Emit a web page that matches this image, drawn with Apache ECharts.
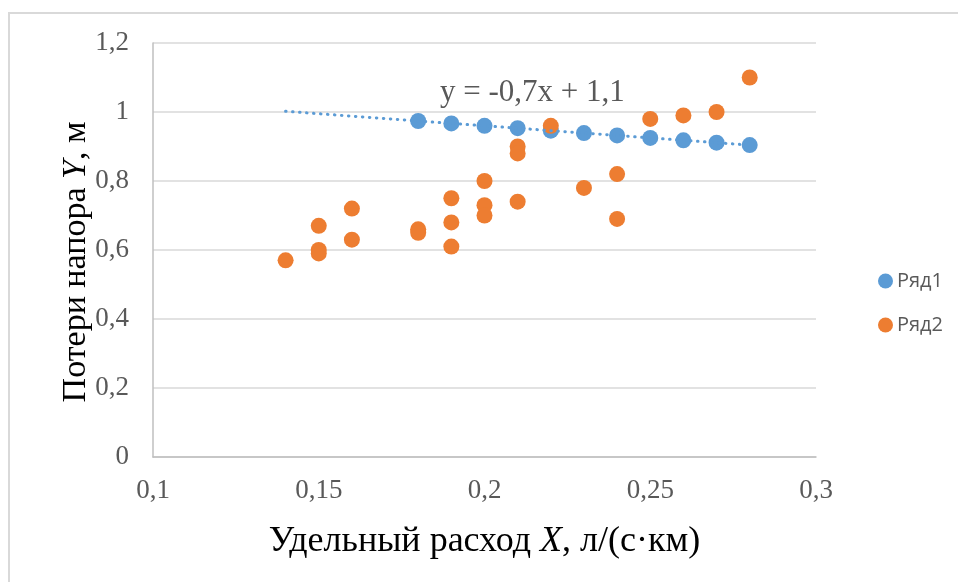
<!DOCTYPE html>
<html>
<head>
<meta charset="utf-8">
<script src="https://cdn.jsdelivr.net/npm/echarts@6/dist/echarts.min.js"></script>
<style>html,body{margin:0;padding:0;background:#fff}#c{width:958px;height:582px}</style>
</head>
<body>
<div id="c"></div>
<script>
// Ряд1 (x, y)
const ser1X = [0.18, 0.19, 0.20, 0.21, 0.22, 0.23, 0.24, 0.25, 0.26, 0.27, 0.28];
const ser1Y = [0.974, 0.967, 0.960, 0.953, 0.946, 0.939, 0.932, 0.925, 0.918, 0.911, 0.904];
// Ряд2 (x, y)
const ser2X = [0.14, 0.15, 0.15, 0.15, 0.16, 0.16, 0.18, 0.18, 0.19, 0.19, 0.19, 0.20, 0.20, 0.20, 0.21, 0.21, 0.21, 0.22, 0.23, 0.24, 0.24, 0.25, 0.26, 0.27, 0.28];
const ser2Y = [0.57, 0.67, 0.60, 0.59, 0.72, 0.63, 0.66, 0.65, 0.75, 0.68, 0.61, 0.80, 0.73, 0.70, 0.90, 0.88, 0.74, 0.96, 0.78, 0.82, 0.69, 0.98, 0.99, 1.00, 1.10];
// Trend line endpoints (linear, Ряд1)
const trendX = [0.14, 0.28];
const trendY = [1.002, 0.904];
const trendLabel = 'y = -0,7x + 1,1';
const seriesNames = ['Ряд1', 'Ряд2'];
const xTitle = ['Удельный расход ', 'X', ', л/(с·км)'];
const yTitle = ['Потери напора ', 'Y', ', м'];

const zip = (a, b) => a.map((v, i) => [v, b[i]]);
const fmt = v => String(Math.round(v * 1000) / 1000).replace('.', ',');
const serif = '"Liberation Serif", "Times New Roman", serif';

const chart = echarts.init(document.getElementById('c'), null, {renderer: 'canvas'});
chart.setOption({
  animation: false,
  backgroundColor: '#fff',
  color: ['#5B9BD5', '#ED7D31'],
  grid: {left: 153, right: 142, top: 43, bottom: 125, containLabel: false},
  legend: {
    orient: 'vertical', left: 873, top: 266, itemGap: 24,
    icon: 'circle', itemWidth: 15, itemHeight: 15,
    data: seriesNames,
    textStyle: {fontFamily: '"Open Sans", "Noto Sans", sans-serif', fontSize: 20, color: '#595959', padding: [0, 0, 0, -1]}
  },
  xAxis: {
    type: 'value', min: 0.1, max: 0.3, interval: 0.05,
    axisLine: {show: true, lineStyle: {color: '#bfbfbf', width: 1.5}},
    axisTick: {show: false},
    splitLine: {show: false},
    axisLabel: {formatter: fmt, fontFamily: serif, fontSize: 27, color: '#595959', margin: 20},
    name: '{a|' + xTitle[0] + '}{b|' + xTitle[1] + '}{a|' + xTitle[2] + '}',
    nameLocation: 'middle', nameGap: 67, nameMoveOverlap: false,
    nameTextStyle: {
      rich: {
        a: {fontFamily: serif, fontSize: 36, color: '#000'},
        b: {fontFamily: serif, fontSize: 36, color: '#000', fontStyle: 'italic'}
      }
    }
  },
  yAxis: {
    type: 'value', min: 0, max: 1.2, interval: 0.2,
    axisLine: {show: true, lineStyle: {color: '#bfbfbf', width: 1.5}},
    axisTick: {show: false},
    splitLine: {show: true, lineStyle: {color: '#d9d9d9', width: 1.5}},
    axisLabel: {formatter: fmt, fontFamily: serif, fontSize: 27, color: '#595959', margin: 24},
    name: '{a|' + yTitle[0] + '}{b|' + yTitle[1] + '}{a|' + yTitle[2] + '}',
    nameLocation: 'middle', nameGap: 60, nameRotate: 90, nameMoveOverlap: false,
    nameTextStyle: {
      padding: [0, 24, 0, 0],
      rich: {
        a: {fontFamily: serif, fontSize: 34, color: '#000'},
        b: {fontFamily: serif, fontSize: 34, color: '#000', fontStyle: 'italic'}
      }
    }
  },
  series: [
    {name: seriesNames[0], type: 'scatter', symbolSize: 16, itemStyle: {opacity: 1}, data: zip(ser1X, ser1Y), z: 2},
    {name: seriesNames[1], type: 'scatter', symbolSize: 16, itemStyle: {opacity: 1}, data: zip(ser2X, ser2Y), z: 3},
    {
      name: 'trend', type: 'line', data: zip(trendX, trendY), showSymbol: false, symbol: 'none',
      lineStyle: {color: '#5B9BD5', width: 3, type: [0.5, 6.5], cap: 'round'}, z: 4,
      silent: true
    }
  ],
  graphic: [
    {type: 'rect', shape: {x: 9, y: 13, width: 960, height: 600}, style: {fill: 'none', stroke: '#d9d9d9', lineWidth: 2}, z: -1},
    {type: 'text', left: 440, top: 77, style: {text: trendLabel, font: '31px ' + serif, fill: '#595959'}}
  ]
});
</script>
</body>
</html>
